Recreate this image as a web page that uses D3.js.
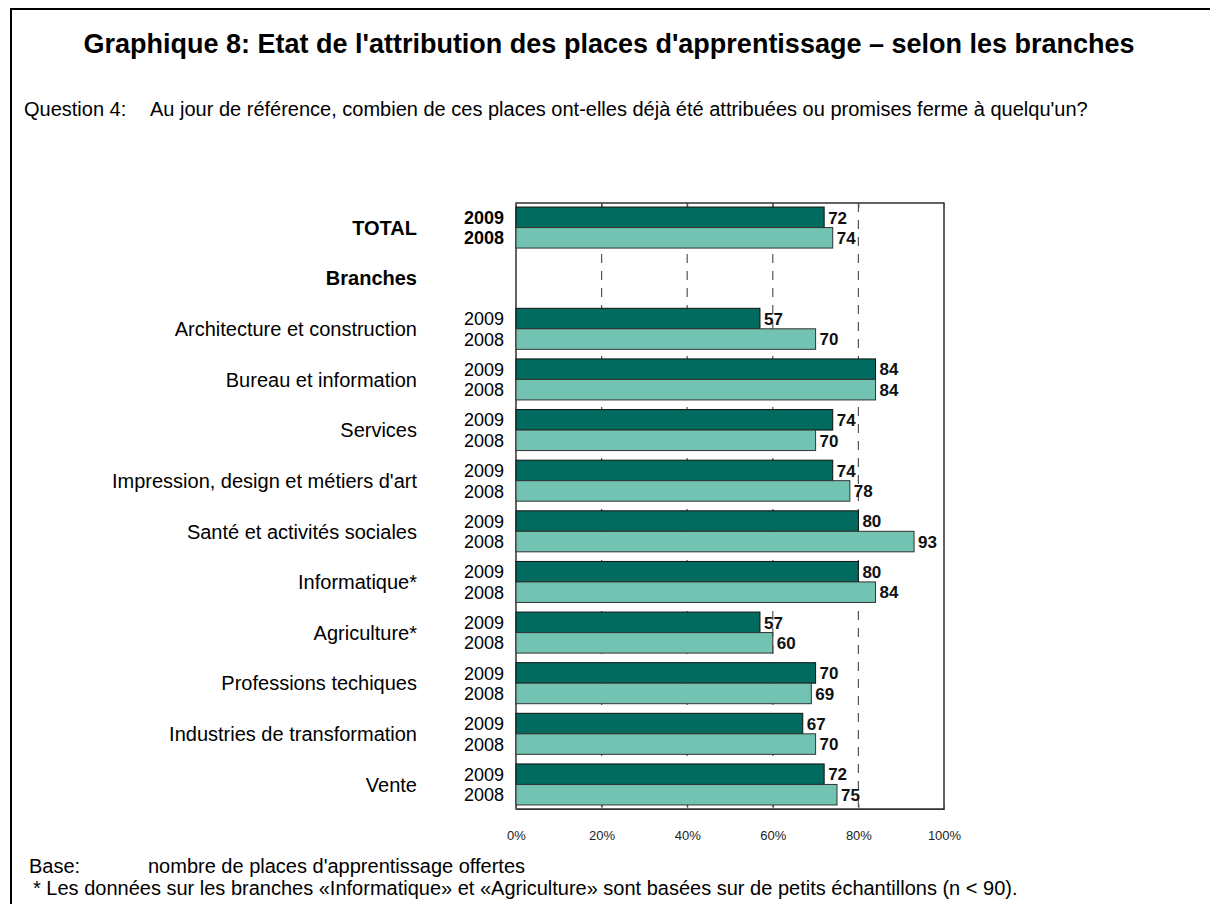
<!DOCTYPE html>
<html>
<head>
<meta charset="utf-8">
<script src="https://cdn.jsdelivr.net/npm/d3@7"></script>
<style>
  body { margin: 0; background: #fff; }
  svg text { font-family: Arial, "Liberation Sans", sans-serif; }
</style>
</head>
<body>
<svg id="chart"></svg>
<script>
const width = 1210;
const height = 904;

// data
const categories = ["TOTAL", "Branches", "Architecture et construction", "Bureau et information",
  "Services", "Impression, design et métiers d'art", "Santé et activités sociales",
  "Informatique*", "Agriculture*", "Professions techiques", "Industries de transformation", "Vente"];
const years = ["2009", "2008"];
const values2009 = [72, null, 57, 84, 74, 74, 80, 80, 57, 70, 67, 72];
const values2008 = [74, null, 70, 84, 70, 78, 93, 84, 60, 69, 70, 75];
const tickValues = [0, 20, 40, 60, 80, 100];

const colors = { "2009": "#006b5e", "2008": "#72c3b2" };

const svg = d3.select("svg#chart")
  .attr("width", width)
  .attr("height", height);

svg.append("rect").attr("width", width).attr("height", height).attr("fill", "#fff");

// outer frame (runs off the right and bottom edges)
svg.append("path")
  .attr("d", "M11," + height + "V9H" + width)
  .attr("fill", "none")
  .attr("stroke", "#000")
  .attr("stroke-width", 2);

// title + question
svg.append("text")
  .attr("x", 609).attr("y", 53)
  .attr("text-anchor", "middle")
  .style("font-size", "27px").style("font-weight", "bold")
  .text("Graphique 8: Etat de l'attribution des places d'apprentissage – selon les branches");

svg.append("text")
  .attr("x", 24).attr("y", 116)
  .style("font-size", "20px")
  .text("Question 4:");
svg.append("text")
  .attr("x", 150).attr("y", 116)
  .style("font-size", "20px")
  .text("Au jour de référence, combien de ces places ont-elles déjà été attribuées ou promises ferme à quelqu'un?");

const margin = { top: 203, bottom: 809, left: 516, right: 944 };

const x = d3.scaleLinear().domain([0, 100]).range([margin.left, margin.right]);
const y = d3.scaleBand().domain(categories).range([margin.top, margin.bottom])
  .paddingInner(0.19).paddingOuter(0.08);
const ySub = d3.scaleBand().domain(years).range([0, y.bandwidth()]);

// dashed gridlines
svg.append("g").attr("id", "grid")
  .selectAll("line")
  .data(tickValues.slice(1, -1))
  .enter().append("line")
    .attr("x1", d => x(d)).attr("x2", d => x(d))
    .attr("y1", margin.top).attr("y2", margin.bottom)
    .attr("stroke", "#555")
    .attr("stroke-width", 1.2)
    .attr("stroke-dasharray", "9,8");

// frame of plot area
svg.append("rect")
  .attr("x", margin.left).attr("y", margin.top)
  .attr("width", margin.right - margin.left)
  .attr("height", margin.bottom - margin.top)
  .attr("fill", "none").attr("stroke", "#111").attr("stroke-width", 1.3);

// x axis at the bottom, ticks inward
const xAxis = svg.append("g")
  .attr("id", "xAxis")
  .attr("transform", "translate(0," + margin.bottom + ")")
  .call(d3.axisBottom(x).tickValues(tickValues).tickSize(-5).tickPadding(22)
    .tickFormat(d => d + "%"));
xAxis.select(".domain").attr("stroke", "#333");
xAxis.selectAll(".tick line").attr("stroke", "#555");
xAxis.selectAll("text").style("font-size", "13px").attr("fill", "#222")
  .style("font-family", "Arial, 'Liberation Sans', sans-serif");

// ticks at the top
svg.append("g")
  .attr("transform", "translate(0," + margin.top + ")")
  .call(d3.axisTop(x).tickValues(tickValues).tickSize(-5).tickFormat(""))
  .call(g => g.select(".domain").remove())
  .selectAll(".tick line").attr("stroke", "#555");

// bars
const rows = categories.map((c, i) => ({ cat: c, "2009": values2009[i], "2008": values2008[i] }))
  .filter(d => d["2009"] != null);

const groups = svg.append("g").attr("id", "bars")
  .selectAll("g")
  .data(rows)
  .enter().append("g")
    .attr("transform", d => "translate(0," + y(d.cat) + ")");

groups.selectAll("rect")
  .data(d => years.map(k => ({ key: k, value: d[k] })))
  .enter().append("rect")
    .attr("x", x(0))
    .attr("y", d => ySub(d.key))
    .attr("width", d => x(d.value) - x(0))
    .attr("height", ySub.bandwidth())
    .attr("fill", d => colors[d.key])
    .attr("stroke", d => d.key == "2009" ? "#111" : "#333")
    .attr("stroke-width", 1);

groups.selectAll("text.value")
  .data(d => years.map(k => ({ key: k, value: d[k] })))
  .enter().append("text")
    .attr("class", "value")
    .attr("x", d => x(d.value) + 4)
    .attr("y", d => ySub(d.key) + ySub.bandwidth() / 2)
    .attr("dy", "0.37em")
    .style("font-size", "17px").style("font-weight", "bold")
    .attr("fill", "#111")
    .text(d => d.value);

// year labels next to the bars
groups.selectAll("text.year")
  .data(d => years.map(k => ({ key: k, total: d.cat == "TOTAL" })))
  .enter().append("text")
    .attr("class", "year")
    .attr("x", 504)
    .attr("y", d => ySub(d.key) + ySub.bandwidth() / 2)
    .attr("dy", "0.37em")
    .attr("text-anchor", "end")
    .style("font-size", "18px")
    .style("font-weight", d => d.total ? "bold" : "normal")
    .text(d => d.key);

// category labels
svg.append("g").attr("id", "yLabels")
  .selectAll("text")
  .data(categories)
  .enter().append("text")
    .attr("x", 417)
    .attr("y", d => y(d) + y.bandwidth() / 2)
    .attr("dy", "0.36em")
    .attr("text-anchor", "end")
    .style("font-size", "20px")
    .style("font-weight", d => (d == "TOTAL" || d == "Branches") ? "bold" : "normal")
    .text(d => d);

// footnotes
svg.append("text").attr("x", 29).attr("y", 873).style("font-size", "20px").text("Base:");
svg.append("text").attr("x", 148).attr("y", 873).style("font-size", "20px")
  .text("nombre de places d'apprentissage offertes");
svg.append("text").attr("x", 33).attr("y", 895).style("font-size", "20px")
  .text("* Les données sur les branches «Informatique» et «Agriculture» sont basées sur de petits échantillons (n < 90).");
</script>
</body>
</html>
